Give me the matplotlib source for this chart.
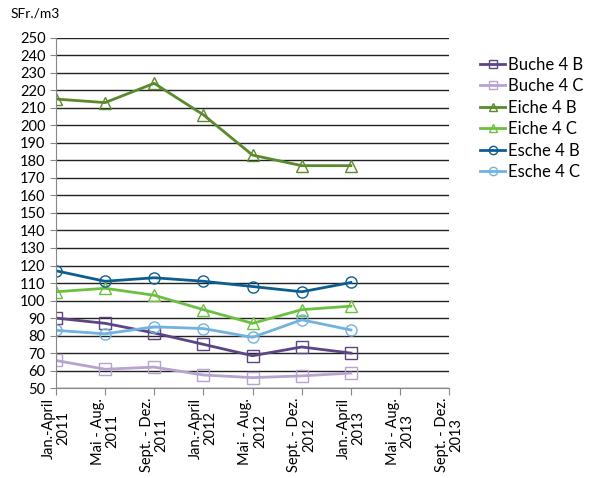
import matplotlib.pyplot as plt
import numpy as np

plt.rcParams['font.family'] = ['Lato', 'DejaVu Sans']

periods = ['Jan.-April\n2011', 'Mai - Aug.\n2011', 'Sept. - Dez.\n2011',
           'Jan.-April\n2012', 'Mai - Aug.\n2012', 'Sept. - Dez.\n2012',
           'Jan.-April\n2013', 'Mai - Aug.\n2013', 'Sept. - Dez.\n2013']

buche_4b = [90, 87, 81.5, 75, 68.5, 73.5, 70]
buche_4c = [65.8, 60.8, 62, 57.5, 56, 57, 58.6]
eiche_4b = [215, 213, 224, 206, 183, 177, 177]
eiche_4c = [105, 107, 103, 94.8, 87, 94.8, 96.8]
esche_4b = [117, 111, 113, 111, 108, 105, 110.3]
esche_4c = [83, 81, 85, 84, 79, 89, 83.2]

series = [
    ('Buche 4 B', buche_4b, '#5c4584', 's'),
    ('Buche 4 C', buche_4c, '#b7a2d0', 's'),
    ('Eiche 4 B', eiche_4b, '#5a8a2b', '^'),
    ('Eiche 4 C', eiche_4c, '#6cc040', '^'),
    ('Esche 4 B', esche_4b, '#0d5e90', 'o'),
    ('Esche 4 C', esche_4c, '#72b2de', 'o'),
]

fig = plt.figure(figsize=(5.95, 4.78), dpi=100)
ax = fig.add_axes([0.094, 0.188, 0.661, 0.733])

x = np.arange(len(periods))
for name, vals, col, mk in series:
    ax.plot(x[:len(vals)], vals, color=col, marker=mk, markersize=8,
            markerfacecolor='none', markeredgewidth=1, linewidth=2, label=name)

ax.set_xlim(0, len(periods) - 1)
ax.set_ylim(50, 250)
ax.set_yticks(np.arange(50, 251, 10))
ax.set_xticks(x)
ax.set_xticklabels(periods, rotation=90, ha='center', va='top',
                   multialignment='center', fontsize=10.5, linespacing=1.05)
ax.tick_params(axis='y', labelsize=10.5, length=4, color='#888888')
ax.tick_params(axis='x', length=5, color='#888888', pad=2)

ax.grid(axis='y', color='#222222', linewidth=1)
ax.set_axisbelow(True)
for side in ['top', 'right']:
    ax.spines[side].set_visible(False)
ax.spines['left'].set_color('#888888')
ax.spines['bottom'].set_color('#888888')

fig.text(0.017, 0.972, 'SFr./m3', fontsize=10, va='center')

ax.legend(loc='upper left', bbox_to_anchor=(1.062, 0.965), frameon=False,
          fontsize=12, handlelength=1.5, handletextpad=0.15, markerscale=0.75,
          labelspacing=0.33, borderaxespad=0)

fig.savefig('out.png', dpi=100)
